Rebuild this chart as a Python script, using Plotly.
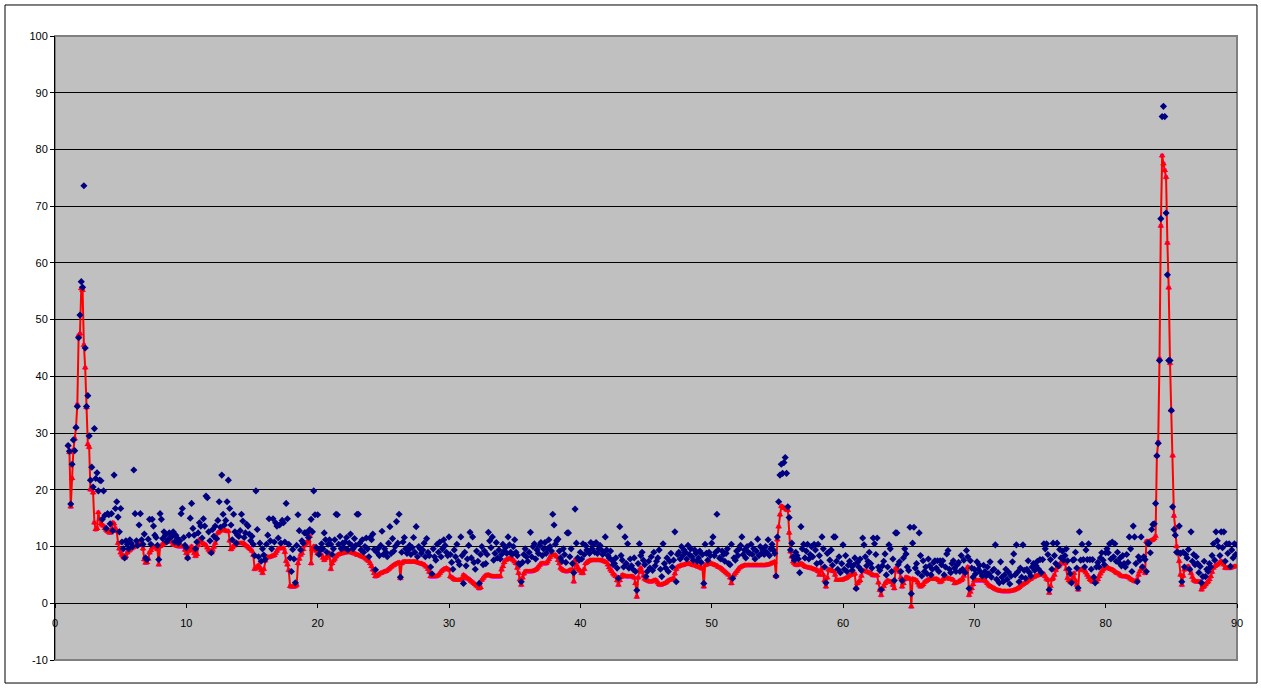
import numpy as np
import plotly.graph_objects as go

# x positions: 1.0 .. 90.0 in steps of 0.1 (891 samples)
x_start, x_stop, x_step = 1.0, 90.0, 0.1
x_values = np.round(np.arange(x_start, x_stop + x_step / 2, x_step), 1)

# smoothed series (red line with triangles / magenta squares), one row per unit of x
smooth_values = [
    27.8, 26.6, 17.0, 22.0, 27.0, 29.0, 31.0, 35.0, 47.2, 47.5,
    55.5, 55.2, 45.5, 41.5, 34.5, 28.0, 27.5, 20.0, 20.4, 19.5,
    14.2, 13.0, 13.2, 16.0, 14.8, 14.0, 13.8, 13.6, 13.2, 12.9,
    12.7, 12.5, 12.4, 13.0, 14.2, 14.0, 13.2, 12.7, 10.6, 9.6,
    8.9, 8.5, 8.2, 8.0, 8.3, 8.9, 9.2, 9.4, 9.6, 9.8,
    9.9, 10.0, 10.2, 10.5, 10.6, 10.5, 10.4, 9.6, 7.7, 7.1,
    7.2, 7.8, 8.9, 9.3, 9.8, 10.0, 9.9, 9.8, 9.5, 6.8,
    10.0, 10.2, 10.4, 10.6, 10.7, 10.8, 10.9, 11.0, 11.0, 10.8,
    10.4, 10.3, 10.2, 10.1, 10.0, 10.0, 10.0, 10.0, 10.0, 9.4,
    8.8, 8.0, 9.2, 9.8, 10.0, 9.4, 8.8, 8.3, 8.6, 10.2,
    11.2, 11.0, 10.7, 10.5, 10.4, 10.2, 9.8, 9.4, 9.1, 8.9,
    9.4, 9.9, 10.6, 11.4, 12.4, 12.6, 12.8, 13.0, 13.0, 12.9,
    12.8, 12.7, 12.7, 11.0, 9.5, 9.8, 10.1, 10.4, 10.6, 10.6,
    10.6, 10.6, 10.6, 10.6, 10.5, 10.3, 10.1, 9.9, 9.7, 9.5,
    9.2, 8.5, 6.0, 6.2, 6.5, 6.7, 6.2, 5.8, 5.3, 6.0,
    7.5, 8.2, 8.1, 8.1, 8.2, 8.3, 8.4, 8.4, 8.8, 9.2,
    9.6, 9.7, 9.7, 9.7, 9.7, 9.0, 7.4, 6.8, 5.8, 3.0,
    2.9, 2.9, 2.9, 3.0, 3.2, 7.0, 7.8, 8.5, 8.8, 9.5,
    10.2, 10.5, 10.8, 11.0, 11.8, 7.0, 9.5, 10.0, 10.0, 9.2,
    8.8, 8.7, 8.6, 8.5, 8.0, 7.6, 7.9, 8.2, 8.5, 8.8,
    6.0, 7.0, 7.5, 7.8, 8.2, 8.5, 8.6, 8.7, 8.8, 8.8,
    8.9, 8.9, 9.0, 9.1, 9.1, 9.0, 8.9, 8.8, 8.8, 8.7,
    8.5, 8.5, 8.4, 8.3, 8.2, 8.1, 8.0, 7.8, 7.6, 7.4,
    7.0, 6.5, 5.9, 5.3, 4.7, 4.8, 5.0, 5.2, 5.3, 5.4,
    5.5, 5.6, 5.6, 5.8, 6.0, 6.2, 6.4, 6.6, 6.7, 6.9,
    7.0, 7.1, 7.2, 4.4, 7.0, 7.3, 7.3, 7.3, 7.3, 7.3,
    7.3, 7.3, 7.3, 7.3, 7.3, 7.3, 7.2, 7.1, 7.0, 7.0,
    6.9, 6.8, 6.6, 6.4, 6.0, 5.5, 4.7, 4.7, 4.7, 4.7,
    4.7, 4.8, 5.0, 5.3, 5.6, 5.8, 6.0, 6.1, 6.2, 6.0,
    5.9, 4.7, 4.6, 4.4, 4.2, 4.1, 4.1, 4.1, 4.1, 4.1,
    4.3, 5.0, 4.8, 4.6, 4.4, 4.3, 4.1, 3.9, 3.7, 3.5,
    3.3, 3.1, 2.9, 2.6, 2.8, 4.1, 4.4, 4.7, 4.9, 5.0,
    5.0, 4.9, 4.8, 4.7, 4.7, 4.7, 4.7, 4.7, 4.7, 4.7,
    5.9, 6.5, 7.2, 7.6, 7.7, 7.8, 7.9, 7.9, 7.8, 7.6,
    7.3, 7.0, 6.2, 5.3, 4.2, 3.2, 4.5, 5.2, 5.6, 5.6,
    5.6, 5.6, 5.6, 5.6, 5.7, 5.8, 5.9, 6.1, 6.4, 6.7,
    7.0, 7.0, 7.0, 7.0, 7.0, 7.3, 7.7, 8.1, 8.5, 8.5,
    8.5, 8.5, 8.2, 7.6, 7.0, 6.2, 6.0, 5.8, 5.7, 5.6,
    5.6, 5.7, 5.8, 5.9, 5.9, 3.8, 7.6, 6.8, 6.2, 5.9,
    5.7, 5.3, 5.3, 6.0, 7.0, 7.2, 7.4, 7.5, 7.6, 7.6,
    7.6, 7.6, 7.6, 7.6, 7.6, 7.6, 7.6, 7.5, 7.4, 7.3,
    7.2, 6.8, 6.3, 5.9, 5.6, 5.2, 5.0, 4.7, 4.0, 3.2,
    4.0, 4.6, 5.0, 4.9, 4.8, 4.7, 4.7, 4.7, 4.7, 4.7,
    4.7, 4.5, 3.5, 1.1, 4.5, 5.8, 6.2, 5.5, 4.8, 4.3,
    4.1, 4.0, 3.9, 3.8, 3.8, 3.9, 4.0, 4.1, 4.0, 3.6,
    3.3, 3.2, 3.3, 3.4, 3.5, 3.6, 3.8, 4.0, 4.1, 4.2,
    4.3, 4.4, 5.2, 6.0, 6.4, 6.5, 6.6, 6.7, 6.7, 6.8,
    6.9, 7.0, 7.0, 7.0, 6.9, 6.8, 6.7, 6.7, 6.6, 6.5,
    6.4, 6.3, 6.2, 6.1, 2.9, 6.7, 6.8, 6.9, 7.0, 7.0,
    7.0, 6.9, 6.8, 6.7, 6.6, 6.4, 6.3, 6.2, 6.0, 5.8,
    5.6, 5.4, 5.2, 5.0, 4.5, 3.5, 4.5, 5.0, 5.3, 5.6,
    5.9, 6.2, 6.4, 6.5, 6.6, 6.7, 6.7, 6.7, 6.7, 6.7,
    6.7, 6.7, 6.7, 6.7, 6.7, 6.7, 6.7, 6.7, 6.7, 6.7,
    6.7, 6.7, 6.8, 6.8, 6.9, 7.0, 7.1, 7.2, 7.3, 4.7,
    11.2, 13.5, 15.6, 17.1, 17.0, 16.8, 16.7, 16.5, 16.4, 12.4,
    9.1, 8.2, 7.3, 7.0, 6.8, 6.7, 6.8, 6.9, 7.0, 6.9,
    6.7, 6.5, 6.4, 6.3, 6.3, 6.2, 6.2, 6.1, 6.0, 5.9,
    5.9, 5.6, 5.0, 5.6, 6.2, 5.0, 4.0, 2.9, 4.5, 5.9,
    5.9, 5.8, 5.7, 5.6, 5.0, 4.1, 4.1, 4.1, 4.1, 4.1,
    4.2, 4.3, 4.4, 4.5, 4.7, 4.9, 5.0, 5.1, 5.1, 5.2,
    2.6, 3.5, 3.8, 4.0, 4.8, 5.8, 5.7, 5.6, 5.6, 5.5,
    5.4, 5.3, 5.1, 4.9, 4.9, 4.9, 4.9, 3.6, 2.3, 1.4,
    2.5, 3.0, 3.5, 3.8, 4.0, 3.9, 3.8, 3.7, 3.2, 2.6,
    6.1, 6.0, 5.8, 5.5, 4.5, 2.9, 3.5, 4.2, 4.6, 4.5,
    4.4, 4.3, -0.6, 4.3, 4.2, 4.1, 4.0, 3.6, 3.2, 2.9,
    3.1, 3.3, 3.7, 3.9, 4.0, 4.2, 4.3, 4.3, 4.3, 4.3,
    4.3, 4.3, 4.2, 4.0, 3.7, 3.9, 4.2, 4.5, 4.6, 4.5,
    4.4, 4.3, 4.3, 4.2, 4.1, 3.5, 3.6, 3.7, 3.8, 4.0,
    4.0, 4.3, 4.8, 5.5, 6.0, 6.4, 1.4, 2.0, 2.6, 3.3,
    4.0, 4.0, 4.0, 4.0, 4.0, 4.0, 4.0, 4.0, 4.0, 3.8,
    3.5, 3.2, 3.0, 2.9, 2.8, 2.6, 2.5, 2.4, 2.3, 2.2,
    2.2, 2.1, 2.1, 2.1, 2.1, 2.1, 2.1, 2.1, 2.2, 2.2,
    2.3, 2.4, 2.5, 2.6, 2.8, 3.0, 3.2, 3.3, 3.5, 3.6,
    3.8, 4.0, 4.2, 4.3, 4.5, 4.6, 4.7, 4.8, 4.9, 5.0,
    5.0, 5.1, 5.3, 5.1, 4.7, 4.3, 4.1, 1.8, 3.0, 4.2,
    4.4, 5.0, 5.8, 6.3, 6.5, 6.8, 7.1, 7.1, 7.0, 7.0,
    6.0, 4.4, 4.0, 3.8, 3.6, 4.5, 5.3, 4.0, 3.2, 2.4,
    5.9, 5.9, 5.9, 5.9, 5.7, 5.4, 5.0, 4.6, 4.2, 4.0,
    3.8, 3.8, 3.8, 3.8, 4.2, 4.7, 5.2, 5.6, 5.9, 6.2,
    6.5, 6.4, 6.2, 6.1, 6.0, 5.9, 5.8, 5.6, 5.4, 5.3,
    5.2, 5.0, 4.8, 4.7, 4.7, 4.7, 4.7, 4.6, 4.5, 4.3,
    4.1, 4.0, 3.9, 3.8, 4.2, 5.0, 5.6, 6.0, 6.5, 6.0,
    5.3, 10.9, 10.9, 10.9, 11.0, 11.1, 11.2, 11.4, 11.8, 26.0,
    28.4, 43.1, 66.5, 78.9, 77.5, 76.3, 75.1, 63.5, 55.6, 42.3,
    34.0, 26.0, 15.4, 13.3, 10.0, 8.9, 7.4, 5.0, 3.2, 4.8,
    5.9, 6.2, 6.4, 6.5, 6.0, 5.3, 4.6, 4.1, 3.9, 3.8,
    3.8, 3.8, 3.8, 2.4, 2.8, 3.0, 3.3, 3.6, 3.8, 4.2,
    4.7, 5.5, 6.2, 6.5, 6.7, 6.8, 7.0, 7.2, 7.4, 7.2,
    6.8, 6.2, 6.2, 6.2, 6.2, 6.2, 6.3, 6.4, 6.5, 6.5,
    6.5,
]

# raw measurements (navy diamonds), one row per unit of x
raw_values = [
    27.8, 26.8, 17.5, 24.5, 28.8, 26.9, 31.0, 34.7, 46.8, 50.8,
    56.7, 55.7, 73.6, 45.0, 34.7, 36.6, 29.5, 21.7, 24.0, 20.5,
    30.8, 22.0, 23.0, 19.8, 21.7, 21.6, 14.8, 19.8, 15.5, 13.2,
    15.8, 15.6, 14.0, 15.8, 12.8, 22.6, 16.7, 17.9, 15.2, 12.6,
    16.7, 10.8, 9.6, 8.0, 11.0, 10.4, 9.6, 11.2, 10.6, 10.0,
    23.5, 15.8, 11.0, 10.2, 13.8, 15.8, 11.2, 10.4, 12.2, 8.0,
    7.7, 11.3, 14.8, 10.4, 14.8, 13.6, 12.0, 11.6, 10.2, 7.7,
    15.8, 14.8, 11.4, 12.6, 12.0, 10.8, 11.2, 12.4, 11.6, 11.8,
    12.6, 10.8, 12.0, 11.5, 10.6, 11.0, 15.8, 16.7, 11.6, 10.2,
    9.8, 8.0, 12.0, 15.0, 17.6, 13.2, 12.0, 9.6, 10.8, 12.4,
    14.2, 13.6, 11.5, 14.9, 13.6, 18.9, 18.6, 12.6, 11.0, 8.9,
    13.0, 11.8, 13.6, 11.4, 14.6, 17.9, 13.4, 22.6, 15.7, 13.8,
    14.6, 17.9, 21.7, 16.7, 13.8, 11.2, 15.7, 12.6, 10.6, 12.0,
    11.8, 12.8, 15.7, 14.5, 11.6, 12.4, 13.9, 13.6, 12.2, 11.0,
    11.8, 10.4, 8.4, 19.8, 13.0, 8.2, 10.6, 7.4, 9.6, 8.5,
    7.7, 10.4, 12.0, 14.9, 11.0, 9.6, 14.9, 10.8, 14.2, 13.6,
    11.5, 13.8, 10.6, 14.6, 14.2, 10.8, 17.6, 14.9, 10.4, 8.0,
    5.6, 9.5, 7.8, 3.6, 10.2, 15.6, 12.8, 9.4, 11.0, 10.6,
    12.4, 12.4, 12.4, 11.6, 13.0, 14.8, 12.6, 19.8, 15.6, 9.8,
    15.6, 8.6, 9.4, 10.5, 9.6, 12.4, 11.2, 9.0, 10.4, 11.2,
    10.4, 8.6, 9.6, 11.2, 15.7, 15.6, 10.4, 11.8, 9.6, 10.6,
    9.8, 10.8, 11.6, 9.4, 10.6, 12.2, 10.2, 9.6, 11.4, 10.2,
    15.7, 15.7, 10.6, 9.4, 11.2, 9.0, 10.0, 11.5, 9.6, 8.2,
    11.6, 11.2, 12.2, 9.5, 5.9, 9.0, 9.6, 8.4, 10.2, 12.7,
    8.6, 9.6, 9.0, 8.2, 10.6, 13.5, 8.8, 11.4, 9.2, 10.0,
    14.4, 10.6, 15.7, 4.6, 9.0, 10.8, 11.6, 9.6, 8.8, 9.4,
    10.2, 8.6, 9.8, 11.6, 9.0, 13.5, 8.2, 10.0, 9.6, 8.8,
    9.4, 10.6, 8.2, 11.4, 9.0, 8.4, 6.4, 5.2, 9.6, 8.2,
    7.6, 10.4, 9.0, 10.8, 8.2, 9.6, 11.2, 10.2, 9.0, 8.4,
    11.7, 8.6, 7.2, 6.0, 9.4, 8.2, 10.4, 7.4, 6.8, 11.7,
    8.4, 3.5, 9.0, 6.6, 7.8, 10.2, 12.5, 8.0, 11.7, 7.2,
    6.0, 9.2, 7.4, 3.5, 8.6, 10.0, 6.8, 9.2, 7.0, 8.6,
    12.5, 11.0, 9.8, 11.7, 7.6, 8.8, 10.7, 8.0, 9.4, 7.8,
    8.6, 10.4, 9.2, 9.8, 8.8, 11.7, 10.3, 9.0, 8.6, 10.0,
    11.2, 9.0, 8.4, 7.0, 6.8, 3.8, 7.2, 8.6, 9.6, 8.2,
    7.4, 9.0, 12.5, 8.2, 10.0, 10.5, 7.8, 9.4, 8.8, 10.2,
    10.7, 8.4, 9.6, 10.7, 8.8, 9.6, 11.2, 10.0, 9.2, 15.7,
    13.8, 10.4, 11.0, 11.3, 9.2, 8.0, 7.4, 9.6, 8.6, 7.2,
    12.4, 12.4, 8.2, 9.6, 7.0, 5.4, 16.6, 10.6, 8.0, 7.6,
    9.0, 7.8, 10.5, 8.6, 10.2, 9.4, 9.2, 8.8, 10.7, 9.6,
    10.4, 9.0, 10.7, 8.8, 9.6, 10.2, 9.4, 8.6, 9.0, 11.7,
    9.4, 8.4, 8.0, 9.2, 7.6, 6.8, 7.0, 8.0, 6.2, 4.4,
    13.5, 8.4, 7.6, 6.4, 11.7, 7.0, 10.5, 6.2, 7.8, 6.6,
    6.0, 8.0, 5.6, 2.3, 7.0, 10.5, 8.4, 9.0, 7.6, 6.8,
    4.7, 5.6, 7.4, 6.2, 8.2, 5.8, 9.0, 6.6, 7.4, 8.0,
    9.4, 6.0, 4.7, 10.5, 7.0, 6.2, 8.0, 5.6, 7.4, 8.8,
    6.4, 7.6, 12.6, 3.8, 8.6, 9.0, 7.8, 10.0, 8.4, 9.4,
    9.0, 7.8, 10.2, 8.6, 9.6, 8.2, 7.6, 9.4, 8.8, 7.4,
    8.0, 9.2, 7.2, 8.6, 3.5, 10.4, 8.8, 7.6, 9.0, 8.4,
    10.6, 11.7, 8.4, 9.0, 15.7, 9.4, 8.0, 7.8, 9.2, 8.6,
    7.4, 8.8, 9.6, 7.0, 6.8, 10.4, 4.4, 8.0, 7.6, 9.2,
    8.4, 9.6, 10.2, 11.7, 8.6, 9.4, 8.0, 10.0, 9.0, 8.8,
    10.4, 8.6, 9.6, 7.8, 9.2, 11.3, 8.4, 10.0, 8.8, 9.4,
    8.6, 10.0, 9.0, 11.2, 8.4, 9.6, 10.4, 9.4, 8.8, 4.8,
    11.7, 17.9, 22.6, 24.5, 22.9, 24.8, 25.7, 22.9, 17.0, 15.1,
    9.4, 10.6, 8.2, 7.6, 9.0, 8.4, 7.8, 5.4, 13.5, 9.6,
    10.4, 8.0, 9.2, 10.4, 7.8, 8.6, 10.0, 8.2, 10.4, 9.4,
    7.0, 10.4, 8.4, 7.2, 11.7, 9.6, 6.4, 3.6, 8.8, 9.0,
    7.6, 9.4, 6.7, 11.7, 11.7, 7.4, 6.0, 8.2, 5.4, 7.0,
    10.3, 6.0, 8.4, 5.6, 6.7, 7.4, 6.7, 5.8, 6.7, 8.0,
    2.6, 7.2, 6.4, 7.8, 5.8, 11.5, 10.3, 8.2, 6.6, 7.4,
    9.0, 7.0, 6.2, 11.5, 10.5, 8.6, 11.5, 6.4, 5.8, 2.4,
    6.6, 7.4, 8.7, 5.0, 6.4, 10.3, 9.6, 5.6, 7.8, 4.0,
    12.4, 12.4, 6.8, 7.3, 5.6, 4.0, 8.0, 9.6, 8.7, 6.4,
    5.8, 13.4, 1.7, 10.6, 13.4, 6.2, 7.0, 5.4, 12.4, 8.4,
    4.8, 7.5, 5.6, 6.4, 5.2, 7.8, 6.6, 5.0, 6.0, 7.2,
    7.5, 6.2, 7.5, 5.6, 7.5, 6.8, 7.5, 5.0, 6.4, 8.7,
    9.3, 6.0, 5.4, 7.0, 7.5, 6.2, 5.6, 6.8, 7.2, 5.6,
    8.4, 6.0, 7.6, 5.4, 9.3, 8.2, 2.6, 7.5, 6.2, 4.6,
    6.0, 5.2, 7.3, 6.0, 6.7, 5.4, 4.8, 6.7, 5.6, 4.8,
    6.4, 5.2, 7.3, 4.6, 5.8, 6.0, 10.3, 4.2, 5.4, 3.6,
    7.3, 4.6, 3.8, 5.0, 6.0, 4.2, 5.5, 3.4, 4.8, 7.3,
    8.7, 5.0, 10.3, 5.5, 3.8, 6.2, 4.6, 10.3, 5.8, 4.4,
    6.0, 7.5, 5.4, 4.8, 6.4, 7.0, 5.8, 6.6, 7.4, 6.0,
    7.7, 5.4, 7.7, 10.5, 9.6, 10.5, 8.6, 2.4, 7.7, 6.0,
    10.6, 8.4, 7.0, 10.6, 6.6, 9.5, 8.0, 9.2, 7.6, 8.4,
    9.6, 7.5, 6.0, 5.2, 3.6, 7.6, 7.7, 9.0, 6.2, 2.7,
    12.6, 7.6, 10.4, 7.7, 6.4, 9.4, 7.7, 10.5, 7.7, 6.0,
    7.7, 4.6, 3.6, 6.4, 7.2, 6.4, 8.0, 8.9, 7.6, 6.8,
    8.9, 9.6, 8.9, 10.5, 7.8, 10.8, 8.2, 10.5, 7.4, 9.0,
    7.2, 8.0, 6.6, 8.4, 7.0, 6.4, 8.6, 7.2, 11.7, 9.6,
    5.6, 13.6, 11.7, 7.0, 3.8, 8.2, 7.6, 11.7, 6.4, 8.2,
    7.7, 5.6, 10.6, 10.6, 8.9, 13.0, 13.9, 14.0, 17.6, 26.0,
    28.2, 42.8, 67.8, 85.8, 87.6, 85.8, 68.8, 57.9, 42.8, 42.8,
    34.0, 17.0, 13.0, 12.0, 9.0, 9.0, 13.6, 8.8, 3.8, 9.0,
    6.4, 8.6, 8.0, 9.5, 6.0, 12.6, 7.4, 8.6, 6.8, 8.2,
    7.0, 5.4, 6.5, 3.6, 4.7, 7.4, 4.7, 6.0, 5.6, 7.0,
    6.4, 8.4, 10.5, 7.6, 12.6, 11.0, 10.0, 8.4, 12.6, 9.8,
    12.6, 7.4, 10.5, 8.8, 10.5, 6.5, 9.4, 8.0, 10.5, 8.6,
    10.3,
]

x_ticks = [0, 10, 20, 30, 40, 50, 60, 70, 80, 90]
y_ticks = [-10, 0, 10, 20, 30, 40, 50, 60, 70, 80, 90, 100]
y_tick_text = [str(v) for v in y_ticks]

assert len(smooth_values) == len(x_values) == len(raw_values)

fig = go.Figure()
fig.add_trace(go.Scatter(
    x=x_values, y=smooth_values, mode="markers",
    marker=dict(symbol="square", size=4, color="#FF00FF"),
    showlegend=False, hoverinfo="skip",
))
fig.add_trace(go.Scatter(
    x=x_values, y=smooth_values, mode="lines+markers",
    line=dict(color="#FF0000", width=2),
    marker=dict(symbol="triangle-up", size=6, color="#FF0000"),
    showlegend=False,
))
fig.add_trace(go.Scatter(
    x=x_values, y=raw_values, mode="markers",
    marker=dict(symbol="diamond", size=5.5, color="#000080"),
    showlegend=False,
))

font_family = "Liberation Sans, Arial, sans-serif"
y_min, y_max = -10, 100
x_axis_pos = (0 - y_min) / (y_max - y_min)

fig.update_layout(
    width=1261, height=688,
    margin=dict(l=55, r=24, t=36, b=28),
    paper_bgcolor="white",
    plot_bgcolor="#C0C0C0",
    font=dict(family=font_family, size=11, color="black"),
    showlegend=False,
    xaxis=dict(
        range=[0, 90], tickvals=x_ticks, showgrid=False, zeroline=False,
        anchor="free", position=x_axis_pos,
        showline=True, linecolor="black", linewidth=1,
        ticks="outside", ticklen=4, tickcolor="black", tickwidth=1,
        ticklabelstandoff=6,
        tickfont=dict(size=11, family=font_family, color="black"),
    ),
    yaxis=dict(
        range=[y_min, y_max], tickvals=y_ticks, ticktext=y_tick_text,
        showgrid=True, gridcolor="black", gridwidth=1, zeroline=False,
        showline=True, linecolor="black", linewidth=1,
        ticks="outside", ticklen=4, tickcolor="black", tickwidth=1,
        tickfont=dict(size=11, family=font_family, color="black"),
    ),
    shapes=[
        dict(type="rect", xref="paper", yref="paper", x0=0, x1=1, y0=0, y1=1,
             line=dict(color="#808080", width=2), layer="below"),
        dict(type="rect", xref="paper", yref="paper",
             x0=-0.0423, x1=1.0169, y0=-0.0369, y1=1.0497,
             line=dict(color="black", width=1), layer="above"),
    ],
)

fig.write_html(
    "out.html",
    config={"displayModeBar": False},
    post_script="document.body.style.margin='0';document.body.style.overflow='hidden';",
)
